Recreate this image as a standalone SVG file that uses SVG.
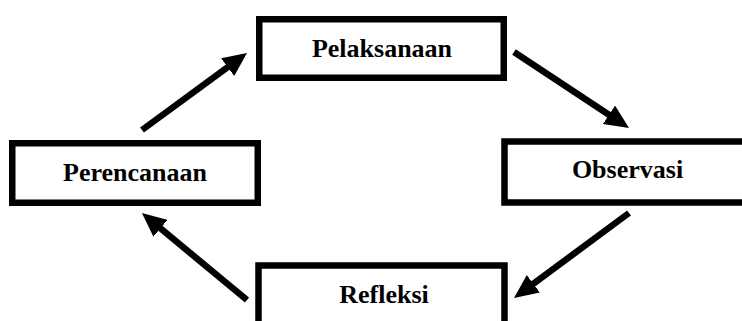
<svg xmlns="http://www.w3.org/2000/svg" width="742" height="321" viewBox="0 0 742 321">
<style>
.box{fill:#fff;stroke:#000;stroke-width:6.5}
.lbl{font-family:"Liberation Serif","Times New Roman",serif;font-weight:bold;font-size:26px;fill:#000;text-anchor:middle}
.arr{stroke:#000;stroke-width:6.5;fill:none;marker-end:url(#ah)}
</style>
<defs>
<marker id="ah" markerUnits="userSpaceOnUse" viewBox="0 0 24 22" markerWidth="24" markerHeight="22" refX="9" refY="11" orient="auto">
<path d="M0,0 L24,11 L0,22 z" fill="#000"/>
</marker>
</defs>
<rect width="742" height="321" fill="#fff"/>
<g id="pelaksanaan">
<rect class="box" x="259.25" y="19.25" width="244.5" height="58.5"/>
<text class="lbl" x="382" y="56.5">Pelaksanaan</text>
</g>
<g id="perencanaan">
<rect class="box" x="12.25" y="143.25" width="245.5" height="59.5"/>
<text class="lbl" x="135" y="181">Perencanaan</text>
</g>
<g id="observasi">
<path class="box" d="M745,141.5 H504.5 V202.5 H745"/>
<text class="lbl" x="627.5" y="178">Observasi</text>
</g>
<g id="refleksi">
<path class="box" d="M258.5,325 V265.5 H504.5 V325"/>
<text class="lbl" x="384" y="302.5">Refleksi</text>
</g>
<g id="connectors">
<line class="arr" x1="142" y1="130" x2="234.9" y2="61.9"/>
<line class="arr" x1="514" y1="52" x2="616.5" y2="119.7"/>
<line class="arr" x1="629" y1="213" x2="526.1" y2="289.1"/>
<line class="arr" x1="247" y1="300" x2="153.5" y2="222.6"/>
</g>
</svg>
